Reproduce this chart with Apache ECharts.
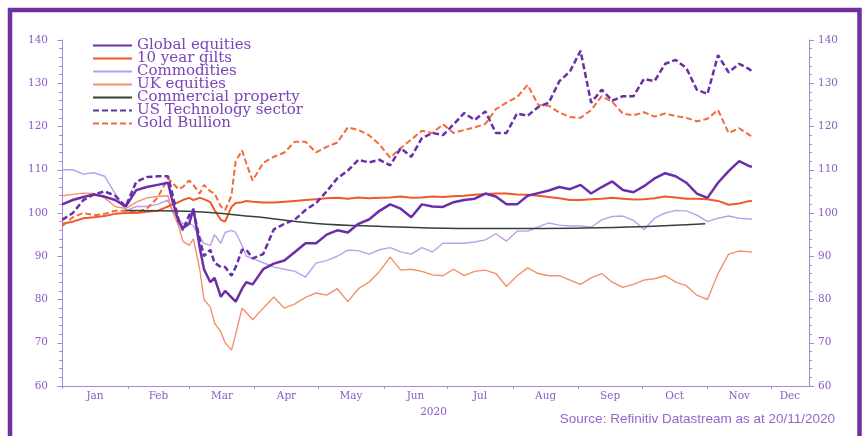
<!DOCTYPE html>
<html>
<head>
<meta charset="utf-8">
<script src="https://cdn.jsdelivr.net/npm/echarts@6/dist/echarts.min.js"></script>
<style>
  html, body { margin: 0; padding: 0; background: #ffffff; }
  #chart { width: 867px; height: 436px; }
</style>
</head>
<body>
<div id="chart"></div>
<script>
// Day offsets from 1 January 2020 shared by the daily market series
const days = [0,5,10,15,20,25,30,35,40,45,50,
  52,55,57,60,62,65,67,70,72,75,77,80,82,85,87,90,
  95,100,105,110,115,120,125,130,135,140,145,150,155,160,165,170,175,180,185,190,195,
  200,205,210,215,220,225,230,235,240,245,250,255,260,265,270,275,280,285,290,295,
  300,305,310,315,320,325,326];

const globalEquities = [102,103,103.7,104.3,103.8,103,101.5,105.3,106,106.5,107,
  103,98,96.5,97.5,101,92,87,84,85,80.6,82,80.5,79.5,82.5,84,83.5,
  87,88.3,89,91,93,93,95,96,95.5,97.5,98.5,100.5,102,101,99,102,101.5,101.4,102.5,103,103.3,
  104.5,103.8,102,102,104,104.6,105.2,106,105.5,106.5,104.5,106,107.3,105.3,104.8,106.2,108,109.2,108.5,107,
  104.5,103.5,107,109.7,112,110.8,110.7];

const gilts10y = [97.5,98,98.8,99,99.3,99.8,100,100,100.3,100.5,101.5,
  102,102.5,103,103.5,103,103.5,103.2,102.5,100.7,98.4,98,101.4,102.3,102.5,102.8,102.6,
  102.4,102.4,102.6,102.8,103,103.2,103.4,103.5,103.3,103.6,103.4,103.5,103.6,103.8,103.5,103.6,103.8,103.7,103.9,104,104.2,
  104.4,104.5,104.5,104.3,104.2,104,103.7,103.4,103,103,103.2,103.3,103.5,103.3,103.1,103.2,103.4,103.8,103.6,103.3,
  103.3,103.2,102.8,101.9,102.2,102.8,102.7];

const commodities = [110,110,109,109.3,108.5,104.5,100.5,101.5,101.5,102,103,
  100.5,98.5,97.5,97.7,97,94.5,93,92.5,95,93,95.5,96,95.5,92.5,90,89.5,
  88.5,87.5,87,86.5,85.2,88.4,89,90,91.4,91.3,90.5,91.5,92,91,90.5,92,91,93,93,93,93.3,
  93.8,95.2,93.5,95.8,95.8,96.8,97.7,97.2,97,97,96.7,98.4,99.2,99.3,98.3,96.2,98.8,100,100.6,100.5,
  99.5,98,98.8,99.3,98.8,98.6,98.6];

const ukEquities = [104,104.3,104.6,104.5,103.5,101.5,101,102.5,103.5,103.8,104,
  100.5,97,93.5,92.5,94,87,80,78.3,74.5,72.5,70,68.3,72,78,77,75.3,
  78,80.6,78,79,80.5,81.5,81,82.5,79.5,82.5,84,86.5,89.8,86.8,87,86.5,85.7,85.5,87,85.5,86.5,
  86.8,86,83,85.5,87.3,86,85.5,85.5,84.5,83.5,85,86,84,82.8,83.5,84.5,84.8,85.5,84,83.2,
  81,80,86,90.5,91.2,91,91];

const usTechnology = [98.4,100,103,104.3,105,104,101.5,107.2,108.3,108.5,108.5,
  104.5,98.5,96,99.5,100.5,94,90,91.5,88.5,87.5,87.5,85.5,87.5,91.5,91.5,89.5,
  90.5,96.2,97.5,98.5,100.7,102.3,105,108,109.8,112.3,111.7,112.3,111,115,113,117.3,118.5,118,120.5,123.1,121.5,
  123.5,118.5,118.5,123,122.5,124.5,125.5,130.5,132.7,137.5,125.5,128.5,126,127,127,131,130.5,134.5,135.4,133.5,
  128.5,127.5,136.5,132.5,134.5,133.2,132.6];

const goldBullion = [97,99,100,99.5,99.8,100.5,100.5,100.2,101,103.5,108,
  107,105.5,106,107.5,106.5,104.5,106.5,105,104.5,101.5,100.7,104,112,114.5,111.5,107.5,
  111.6,113,114,116.5,116.5,114,115.3,116.3,119.8,119.2,118,115.8,112.8,115,117,119,118.5,120.5,118.5,119.2,119.8,
  120.6,124,125.5,126.8,129.6,125,124.8,123.2,122.2,122,123.8,127,125.7,123,122.6,123.3,122.3,123,122.4,122,
  121.2,121.8,123.8,118.5,119.6,118,117.6];

// Commercial property is published monthly (month-end values)
const propertyDates = ['2020-01-31','2020-02-29','2020-03-31','2020-04-30','2020-05-31',
  '2020-06-30','2020-07-31','2020-08-31','2020-09-30','2020-10-31'];
const commercialProperty = [100.6,100.4,99.2,97.6,96.9,96.5,96.4,96.5,96.8,97.5];

const seriesNames = ['Global equities','10 year gilts','Commodities','UK equities',
  'Commercial property','US Technology sector','Gold Bullion'];
const monthNames = ['Jan','Feb','Mar','Apr','May','Jun','Jul','Aug','Sep','Oct','Nov','Dec'];
const yearLabel = '2020';
const sourceText = 'Source: Refinitiv Datastream as at 20/11/2020';

// The x axis counts days from 1 January 2020; it runs from 30 Dec 2019 to 19 Dec 2020
const DAY = 86400000;
const start = Date.UTC(2020, 0, 1);
const dayOf = (y, m, d) => (Date.UTC(y, m, d) - start) / DAY;
const axisMin = dayOf(2019, 11, 30);
const axisMax = dayOf(2020, 11, 19);

const toPairs = vals => vals.map((v, i) => [days[i], v]);
const propertyPairs = propertyDates.map((s, i) => {
  const p = s.split('-').map(Number);
  return [dayOf(p[0], p[1] - 1, p[2]), commercialProperty[i]];
});

// Ticks at month boundaries, labels centred in each month's visible span
const monthStarts = [];
for (let m = 0; m < 12; m++) monthStarts.push(dayOf(2020, m, 1));
const monthMids = monthStarts.map((s, m) => {
  const a = Math.max(s, axisMin);
  const b = Math.min(m < 11 ? monthStarts[m + 1] : dayOf(2021, 0, 1), axisMax);
  return (a + b) / 2;
});
const monthOfDay = v => {
  let k = 0;
  for (let m = 0; m < 12; m++) if (v >= monthStarts[m]) k = m;
  return monthNames[k];
};

const purple = '#6a2fa8';
const red = '#ee5a2a';
const axisColor = '#a886d8';
const labelColor = '#8b5cc6';
const serif = 'DejaVu Serif';

function yAxisDef(pos) {
  return {
    type: 'value', position: pos, min: 60, max: 140, interval: 10,
    axisLine: { show: true, lineStyle: { color: axisColor, width: 1 } },
    axisTick: { show: true, length: 5, lineStyle: { color: axisColor } },
    minorTick: { show: true, splitNumber: 5, length: 3, lineStyle: { color: axisColor } },
    splitLine: { show: false },
    axisLabel: { margin: pos === 'left' ? 10 : 9, color: labelColor, fontFamily: serif, fontSize: 10.5 }
  };
}

const lineBase = { type: 'line', showSymbol: false, symbol: 'none', animation: false, yAxisIndex: 0 };

const chart = echarts.init(document.getElementById('chart'), null, { renderer: 'canvas' });
chart.setOption({
  backgroundColor: '#ffffff',
  animation: false,
  grid: { left: 58, right: 58, top: 40, bottom: 50, containLabel: false },
  legend: {
    orient: 'vertical', left: 92, top: 38, padding: 0,
    itemWidth: 39, itemHeight: 12, itemGap: -2,
    itemStyle: { opacity: 0 },
    textStyle: { fontFamily: serif, fontSize: 15, color: '#7a44b8', lineHeight: 12 },
    data: seriesNames
  },
  xAxis: {
    type: 'value', min: axisMin, max: axisMax,
    axisLine: { show: true, lineStyle: { color: axisColor, width: 1 } },
    axisTick: { show: true, customValues: monthStarts, length: 3, lineStyle: { color: axisColor } },
    axisLabel: {
      customValues: monthMids, margin: 5, color: labelColor, fontFamily: serif, fontSize: 10.5,
      formatter: v => monthOfDay(v)
    },
    splitLine: { show: false },
    name: yearLabel, nameLocation: 'middle', nameGap: 15,
    nameTextStyle: { color: labelColor, fontFamily: serif, fontSize: 10.5 }
  },
  yAxis: [yAxisDef('left'), yAxisDef('right')],
  series: [
    Object.assign({}, lineBase, { name: seriesNames[0], data: toPairs(globalEquities), color: purple, lineStyle: { width: 2.5, color: purple }, z: 6 }),
    Object.assign({}, lineBase, { name: seriesNames[1], data: toPairs(gilts10y), color: red, lineStyle: { width: 2, color: red }, z: 4 }),
    Object.assign({}, lineBase, { name: seriesNames[2], data: toPairs(commodities), color: '#b9a0ec', lineStyle: { width: 1.4, color: '#b9a0ec' }, z: 3 }),
    Object.assign({}, lineBase, { name: seriesNames[3], data: toPairs(ukEquities), color: '#f4906c', lineStyle: { width: 1.4, color: '#f4906c' }, z: 3 }),
    Object.assign({}, lineBase, { name: seriesNames[4], data: propertyPairs, smooth: 0.4, color: '#34433a', lineStyle: { width: 1.5, color: '#34433a' }, z: 5 }),
    Object.assign({}, lineBase, { name: seriesNames[5], data: toPairs(usTechnology), color: purple, lineStyle: { width: 2.5, color: purple, type: [6, 3] }, z: 6 }),
    Object.assign({}, lineBase, { name: seriesNames[6], data: toPairs(goldBullion), color: '#f26a3a', lineStyle: { width: 2, color: '#f26a3a', type: [6, 3] }, z: 4 })
  ],
  graphic: [
    {
      type: 'rect', silent: true, z: 100,
      shape: { x: 10, y: 10, width: 849.5, height: 440 },
      style: { fill: null, stroke: '#7030a0', lineWidth: 4.5 }
    },
    {
      type: 'text', silent: true, right: 32, top: 412,
      style: { text: sourceText, fill: '#9366cc', font: '13.5px "Liberation Sans", sans-serif', textAlign: 'right' }
    }
  ]
});
</script>
</body>
</html>
